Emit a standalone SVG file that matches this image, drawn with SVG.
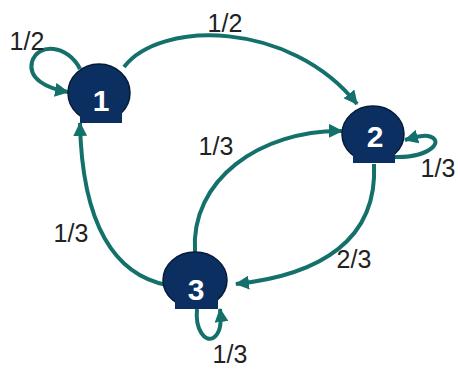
<svg xmlns="http://www.w3.org/2000/svg" width="460" height="371" viewBox="0 0 460 371">
  <defs>
    <marker id="arrow" markerUnits="userSpaceOnUse" markerWidth="14" markerHeight="14" refX="13" refY="7" orient="auto">
      <path d="M0,0 L14,7 L0,14 z" fill="#13706a"/>
    </marker>
    <style>
      .edge { fill: none; stroke: #13706a; stroke-width: 4; marker-end: url(#arrow); }
      .node-body { fill: #0c2f62; stroke: #061a38; stroke-width: 1.5; }
      .node-base { fill: #0c2f62; stroke: none; }
      .node-label { fill: #ffffff; font-family: "Liberation Sans", Arial, sans-serif; font-weight: bold; font-size: 30px; text-anchor: middle; }
      .edge-label { fill: #222222; font-family: "Liberation Sans", Arial, sans-serif; font-size: 25px; text-anchor: middle; }
    </style>
  </defs>
  <rect width="460" height="371" fill="#ffffff"/>

  <g id="connectors">
    <path class="edge" d="M 80 69 C 68 45, 38 42, 32 62 C 28 78, 45 88, 68 92"/>
    <path class="edge" d="M 124 67 C 160 20, 290 20, 357 104"/>
    <path class="edge" d="M 395 157 C 430 158, 446 140, 428 136 C 422 135, 416 137, 405 140"/>
    <path class="edge" d="M 167 285 C 115 275, 82 225, 80 123"/>
    <path class="edge" d="M 195 252 C 190 180, 260 130, 342 131"/>
    <path class="edge" d="M 374 164 C 378 240, 320 275, 236 284"/>
    <path class="edge" d="M 197 309 C 195 330, 205 342, 213 338 C 220 334, 222 325, 220 309"/>
  </g>

  <g id="edge-labels">
    <text class="edge-label" x="27" y="50">1/2</text>
    <text class="edge-label" x="225" y="32">1/2</text>
    <text class="edge-label" x="438" y="177">1/3</text>
    <text class="edge-label" x="71" y="242">1/3</text>
    <text class="edge-label" x="216" y="155">1/3</text>
    <text class="edge-label" x="354" y="268">2/3</text>
    <text class="edge-label" x="230" y="363">1/3</text>
  </g>

  <!-- each node: rounded top with a flat rectangular base -->
  <g id="node-1">
    <ellipse class="node-body" cx="99" cy="93" rx="31" ry="29"/>
    <rect class="node-base" x="80" y="106" width="42" height="17"/>
    <text class="node-label" x="101" y="111">1</text>
  </g>
  <g id="node-2">
    <ellipse class="node-body" cx="373" cy="134" rx="31" ry="28"/>
    <rect class="node-base" x="353" y="146" width="42" height="17"/>
    <text class="node-label" x="375" y="147">2</text>
  </g>
  <g id="node-3">
    <ellipse class="node-body" cx="195" cy="280" rx="32" ry="28"/>
    <rect class="node-base" x="175" y="292" width="43" height="17"/>
    <text class="node-label" x="196" y="300">3</text>
  </g>
</svg>
